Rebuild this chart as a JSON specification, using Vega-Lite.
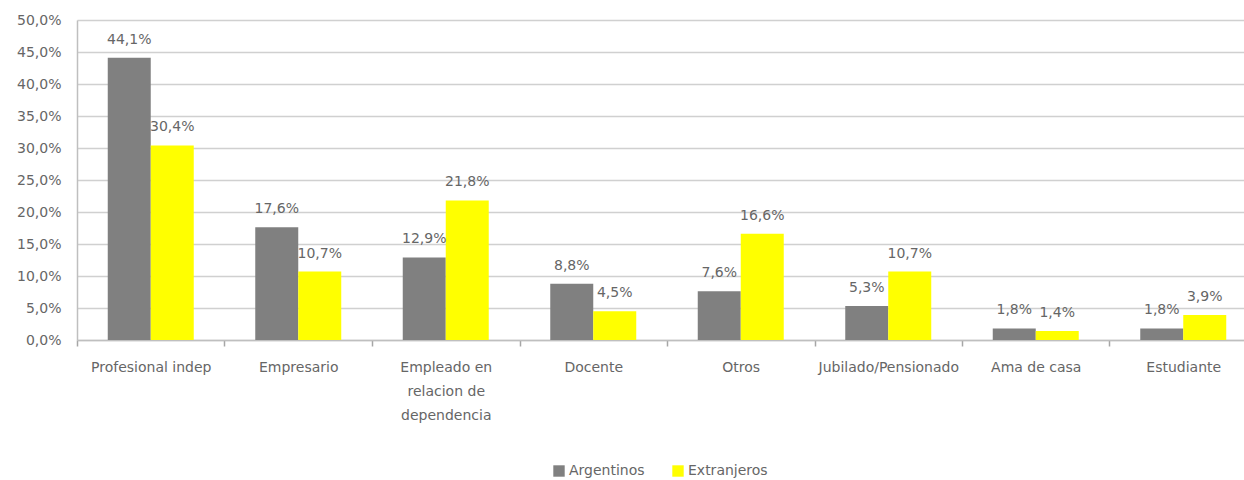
{
  "$schema": "https://vega.github.io/schema/vega-lite/v6.json",
  "autosize": {"type": "none"},
  "padding": {"left": 77, "top": 20, "right": 0, "bottom": 140},
  "width": 1180,
  "height": 320,
  "background": "white",
  "config": {
    "locale": {"number": {"decimal": ",", "thousands": ".", "grouping": [3], "currency": ["", " €"]}},
    "view": {"stroke": null},
    "font": "DejaVu Sans"
  },
  "data": {
    "values": [
      {"categoria": "Profesional indep", "grupo": "Argentinos", "valor": 0.441},
      {"categoria": "Profesional indep", "grupo": "Extranjeros", "valor": 0.304},
      {"categoria": "Empresario", "grupo": "Argentinos", "valor": 0.176},
      {"categoria": "Empresario", "grupo": "Extranjeros", "valor": 0.107},
      {"categoria": "Empleado en relacion de dependencia", "grupo": "Argentinos", "valor": 0.129},
      {"categoria": "Empleado en relacion de dependencia", "grupo": "Extranjeros", "valor": 0.218},
      {"categoria": "Docente", "grupo": "Argentinos", "valor": 0.088},
      {"categoria": "Docente", "grupo": "Extranjeros", "valor": 0.045},
      {"categoria": "Otros", "grupo": "Argentinos", "valor": 0.076},
      {"categoria": "Otros", "grupo": "Extranjeros", "valor": 0.166},
      {"categoria": "Jubilado/Pensionado", "grupo": "Argentinos", "valor": 0.053},
      {"categoria": "Jubilado/Pensionado", "grupo": "Extranjeros", "valor": 0.107},
      {"categoria": "Ama de casa", "grupo": "Argentinos", "valor": 0.018},
      {"categoria": "Ama de casa", "grupo": "Extranjeros", "valor": 0.014},
      {"categoria": "Estudiante", "grupo": "Argentinos", "valor": 0.018},
      {"categoria": "Estudiante", "grupo": "Extranjeros", "valor": 0.039}
    ]
  },
  "encoding": {
    "x": {
      "field": "categoria",
      "type": "nominal",
      "sort": null,
      "scale": {"paddingInner": 0.417, "paddingOuter": 0.2085},
      "axis": {
        "title": null,
        "labelAngle": 0,
        "tickOffset": -73.75,
        "labelOffset": 73.75,
        "tickSize": 6,
        "tickColor": "#a6a6a6",
        "tickWidth": 1.5,
        "domainColor": "#bfbfbf",
        "domainWidth": 1.5,
        "labelFont": "DejaVu Sans",
        "labelFontSize": 14,
        "labelColor": "#666666",
        "labelPadding": 14,
        "labelLineHeight": 24,
        "labelBaseline": "top",
        "labelLimit": 200,
        "labelOverlap": false,
        "labelExpr": "datum.label == 'Empleado en relacion de dependencia' ? ['Empleado en', 'relacion de', 'dependencia'] : datum.label"
      }
    },
    "xOffset": {"field": "grupo", "type": "nominal", "scale": {"paddingInner": 0}},
    "y": {
      "field": "valor",
      "type": "quantitative",
      "scale": {"domain": [0, 0.5], "nice": false},
      "axis": {
        "title": null,
        "format": ".1%",
        "values": [0, 0.05, 0.1, 0.15, 0.2, 0.25, 0.3, 0.35, 0.4, 0.45, 0.5],
        "ticks": false,
        "domainColor": "#bfbfbf",
        "domainWidth": 1.5,
        "gridColor": "#d0d0d0",
        "gridWidth": 1.5,
        "labelFont": "DejaVu Sans",
        "labelFontSize": 14,
        "labelColor": "#666666",
        "labelPadding": 16
      }
    }
  },
  "layer": [
    {
      "mark": {"type": "bar"},
      "encoding": {
        "color": {
          "field": "grupo",
          "type": "nominal",
          "scale": {"domain": ["Argentinos", "Extranjeros"], "range": ["#808080", "#ffff00"]},
          "legend": {
            "title": null,
            "orient": "none",
            "legendX": 475,
            "legendY": 444,
            "direction": "horizontal",
            "symbolType": "square",
            "symbolSize": 130,
            "symbolStrokeWidth": 0,
            "labelFont": "DejaVu Sans",
            "labelFontSize": 14,
            "labelColor": "#666666",
            "columnPadding": 26,
            "labelOffset": 3
          }
        }
      }
    },
    {
      "mark": {"type": "text", "baseline": "alphabetic", "dy": -14, "fontSize": 14, "font": "DejaVu Sans", "color": "#666666"},
      "encoding": {
        "text": {"field": "valor", "type": "quantitative", "format": ".1%"}
      }
    }
  ]
}
